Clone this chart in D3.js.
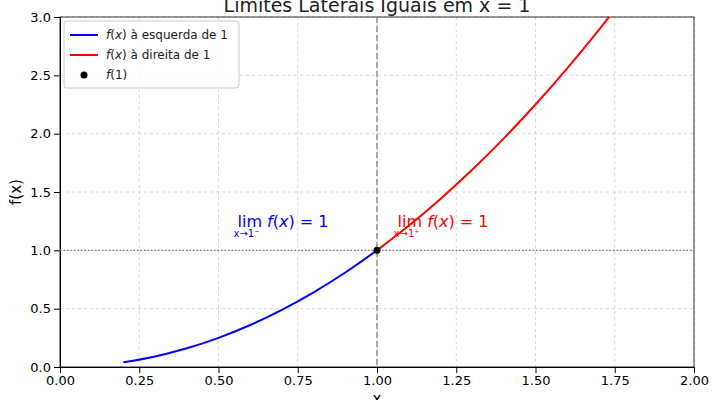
<!doctype html>
<html>
<head>
<style>
  body { margin: 0; background: #fff; }
  text { font-family: 'DejaVu Sans'; }
</style>
<script src="https://d3js.org/d3.v7.min.js"></script>
</head>
<body>
<script>
// values
var leftX = [0.2, 0.3, 0.4, 0.5, 0.6, 0.7, 0.8, 0.9, 1.0];
var leftY = [0.04, 0.09, 0.16, 0.25, 0.36, 0.49, 0.64, 0.81, 1.0];
var rightX = [1.0, 1.1, 1.2, 1.3, 1.4, 1.5, 1.6, 1.7, 1.8, 1.9, 2.0];
var rightY = [1.0, 1.21, 1.44, 1.69, 1.96, 2.25, 2.56, 2.89, 3.24, 3.61, 4.0];
var xTicks = [0, 0.25, 0.5, 0.75, 1.0, 1.25, 1.5, 1.75, 2.0];
var yTicks = [0, 0.5, 1.0, 1.5, 2.0, 2.5, 3.0];
var legendLabels = ["à esquerda de 1", "à direita de 1", "f(1)"];

var W = 720, H = 400, L = 60, R = 694, T = 17, B = 367;
var svg = d3.select("body").append("svg").attr("width", W).attr("height", H);
var x = d3.scaleLinear().domain([0, 2]).range([L, R]);
var y = d3.scaleLinear().domain([0, 3]).range([B, T]);

svg.append("defs").append("clipPath").attr("id", "clip")
  .append("rect").attr("x", L).attr("y", T).attr("width", R - L).attr("height", B - T);

// grid
svg.append("g").selectAll("line").data(xTicks).enter().append("line")
  .attr("x1", d => x(d)).attr("x2", d => x(d)).attr("y1", T).attr("y2", B)
  .attr("stroke", "#ccc").attr("stroke-dasharray", "3,3").attr("stroke-width", 0.8);
svg.append("g").selectAll("line").data(yTicks).enter().append("line")
  .attr("x1", L).attr("x2", R).attr("y1", d => y(d)).attr("y2", d => y(d))
  .attr("stroke", "#ccc").attr("stroke-dasharray", "3,3").attr("stroke-width", 0.8);

// axes
svg.append("g").attr("transform", "translate(0," + B + ")")
  .call(d3.axisBottom(x).tickValues(xTicks).tickFormat(d3.format(".2f")).tickSizeOuter(0))
  .call(g => g.selectAll("text").attr("font-size", 13).attr("fill", "#000"));
svg.append("g").attr("transform", "translate(" + L + ",0)")
  .call(d3.axisLeft(y).tickValues(yTicks).tickFormat(d3.format(".1f")).tickSizeOuter(0))
  .call(g => g.selectAll("text").attr("font-size", 13).attr("fill", "#000"));
svg.append("rect").attr("x", L).attr("y", T).attr("width", R - L).attr("height", B - T)
  .attr("fill", "none").attr("stroke", "#000").attr("stroke-width", 0.8);

// reference lines
svg.append("line").attr("x1", x(1)).attr("x2", x(1)).attr("y1", T).attr("y2", B)
  .attr("stroke", "#777").attr("stroke-dasharray", "6,3").attr("stroke-width", 1.2);
svg.append("line").attr("x1", L).attr("x2", R).attr("y1", y(1)).attr("y2", y(1))
  .attr("stroke", "#777").attr("stroke-dasharray", "1.5,2").attr("stroke-width", 1.2);

var line = d3.line().x(d => x(d[0])).y(d => y(d[1])).curve(d3.curveMonotoneX);
var plot = svg.append("g").attr("clip-path", "url(#clip)");
plot.append("path").datum(d3.zip(leftX, leftY)).attr("d", line)
  .attr("fill", "none").attr("stroke", "blue").attr("stroke-width", 2);
plot.append("path").datum(d3.zip(rightX, rightY)).attr("d", line)
  .attr("fill", "none").attr("stroke", "red").attr("stroke-width", 2);
svg.append("circle").attr("cx", x(1)).attr("cy", y(1)).attr("r", 3.5).attr("fill", "#000");

// annotations
function lim(xp, yp, col, side) {
  var t = svg.append("text").attr("x", xp).attr("y", yp).attr("fill", col).attr("font-size", 16);
  t.append("tspan").text("lim ");
  t.append("tspan").attr("font-style", "italic").text("f");
  t.append("tspan").text("(");
  t.append("tspan").attr("font-style", "italic").text("x");
  t.append("tspan").text(") = 1");
  svg.append("text").attr("x", xp - 4).attr("y", yp + 10).attr("fill", col)
    .attr("font-size", 10).text("x→1" + side);
}
lim(x(0.56), y(1.2), "blue", "⁻");
lim(x(1.065), y(1.2), "red", "⁺");

// title and labels
svg.append("text").attr("x", (L + R) / 2).attr("y", 12).attr("text-anchor", "middle")
  .attr("font-size", 19).attr("fill", "#222").text("Limites Laterais Iguais em x = 1");
svg.append("text").attr("x", (L + R) / 2).attr("y", 404).attr("text-anchor", "middle")
  .attr("font-size", 15).text("x");
svg.append("text").attr("transform", "translate(21," + (T + B) / 2 + ") rotate(-90)")
  .attr("text-anchor", "middle").attr("font-size", 15).text("f(x)");

// legend
var lg = svg.append("g").attr("transform", "translate(64,21)");
lg.append("rect").attr("width", 175).attr("height", 67).attr("rx", 3)
  .attr("fill", "#fff").attr("fill-opacity", 0.85).attr("stroke", "#ccc");
var cols = ["blue", "red", "#000"];
legendLabels.forEach(function(lbl, i) {
  var yy = 14 + i * 20;
  if (i < 2) lg.append("line").attr("x1", 6).attr("x2", 34).attr("y1", yy).attr("y2", yy)
    .attr("stroke", cols[i]).attr("stroke-width", 2);
  else lg.append("circle").attr("cx", 20).attr("cy", yy).attr("r", 3.5).attr("fill", "#000");
  var t = lg.append("text").attr("x", 42).attr("y", yy + 4).attr("font-size", 12).attr("fill", "#222");
  if (i < 2) {
    t.append("tspan").attr("font-style", "italic").text("f");
    t.append("tspan").text("(");
    t.append("tspan").attr("font-style", "italic").text("x");
    t.append("tspan").text(") " + lbl);
  } else {
    t.append("tspan").attr("font-style", "italic").text("f");
    t.append("tspan").text("(1)");
  }
});
</script>
</body>
</html>
